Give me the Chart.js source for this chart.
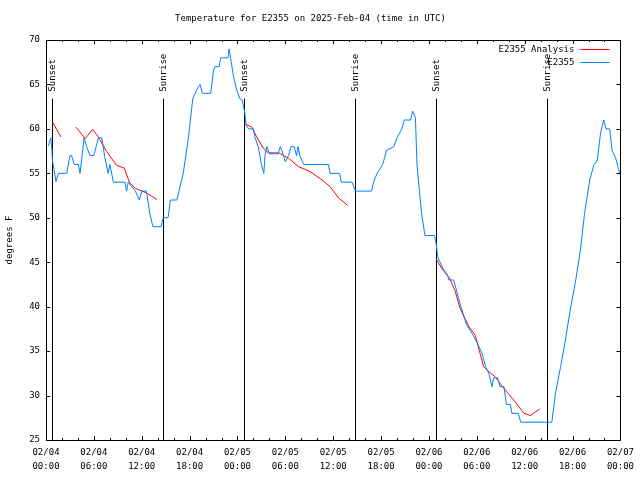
<!DOCTYPE html>
<html>
<head>
<meta charset="utf-8">
<script src="https://cdn.jsdelivr.net/npm/chart.js@4.4.1/dist/chart.umd.min.js"></script>
<style>
    html, body { margin: 0; padding: 0; background: #fff; }
</style>
</head>
<body>
<canvas id="tempChart" width="640" height="480"></canvas>
<script>
// hours since 02/04 00:00 UTC
const stationHours = [0.3, 0.6, 0.75, 0.8, 1.25, 1.55, 2.6, 3.0, 3.2, 3.55, 4.05, 4.27, 4.55, 4.77, 5.1, 5.5, 6.0, 6.56, 7.0, 7.35, 7.8, 8.0, 8.45, 9.9,
    10.1, 10.3, 11.2, 11.7, 12.0, 12.6, 13.0, 13.4, 14.4, 14.7, 15.3, 15.6, 16.4, 17.2, 17.85, 18.4, 18.9, 19.3, 19.6, 20.65, 21.0, 21.2, 21.7, 21.9,
    22.8, 22.95, 23.2, 23.5, 23.9, 24.3, 24.6, 24.9, 25.1, 25.4, 26.0, 26.2, 26.6, 27.0, 27.3, 27.45, 27.7, 28.0, 29.1, 29.35, 29.6, 30.0, 30.4, 30.7,
    31.1, 31.4, 31.6, 31.8, 32.3, 35.4, 35.6, 36.8, 37.0, 38.35, 38.8, 40.8, 41.05, 41.5, 42.2, 42.7, 43.6, 44.0, 44.6, 44.9, 45.7, 45.95, 46.3, 46.5,
    46.8, 47.1, 47.5, 48.7, 48.9, 49.1, 49.4, 49.8, 50.3, 50.5, 51.1, 51.4, 52.0, 52.35, 52.7, 53.4, 54.0, 54.65, 55.1, 55.5, 55.7, 55.9, 56.1, 56.6,
    56.9, 57.4, 57.7, 58.2, 58.4, 59.2, 59.5, 63.4, 63.85, 64.5, 65.1, 65.7, 66.4, 67.0, 67.5, 68.15, 68.65, 69.1, 69.5, 69.9, 70.2, 70.65, 70.95,
    71.4, 71.9, 72.0];
const stationTemps = [58.1, 59.0, 57.6, 56.5, 54.1, 55, 55, 57, 57, 56, 56, 55, 57.2, 59, 58, 57, 57, 59, 59, 56.9, 55, 56, 54, 54,
    53, 54, 53, 52, 53, 53, 50.5, 49, 49, 50, 50, 52, 52, 55, 59, 63.4, 64.4, 65, 64, 64, 66.6, 67, 67, 68,
    68, 69, 67.6, 65.9, 64.4, 63.4, 63.2, 61.9, 60.4, 60, 60, 59, 58, 56, 55, 57, 58, 57.2, 57.2, 58, 57.5, 56.3, 57, 58,
    58, 57, 58, 57, 56, 56, 55, 55, 54, 54, 53, 53, 54, 55, 56, 57.6, 58, 59, 60, 61, 61, 62, 61.3, 56,
    53, 50.3, 48, 48, 47.1, 45.6, 45, 44.2, 43.6, 43, 43, 42, 40, 39, 38, 37, 36, 34.75, 33.25, 32.5, 31.75, 31, 32, 32,
    31, 31, 29, 29, 28, 28, 27, 27, 30.25, 33.25, 36.25, 39.6, 43, 46.5, 50.5, 54.25, 55.9, 56.5, 59.5, 61, 60, 60, 57.6,
    56.7, 55, 55];

// analysis series, null = break in the line
const analysisHours = [0.8, 1.85, 2.8,
    3.75, 4.9, 5.85, 6.56, 7.6, 8.85, 9.8, 10.5, 11.2, 12.6, 13.9, 19.0,
    24.85, 25.8, 26.4, 27.25, 27.9, 29.15, 30.4, 31.65, 33.1, 34.6, 35.6, 36.7, 37.8, 43.0,
    48.9, 49.6, 50.6, 51.3, 51.9, 53.0, 53.8, 54.4, 54.85, 55.5, 56.3, 57.4, 58.8, 59.9, 60.7, 61.9];
const analysisTemps = [60.8, 59.1, null,
    60.2, 58.9, 59.95, 59.1, 57.45, 55.9, 55.6, 53.9, 53.3, 52.8, 52.05, null,
    60.6, 60.2, 59.1, 57.8, 57.3, 57.3, 56.7, 55.75, 55.2, 54.25, 53.5, 52.2, 51.4, null,
    45.4, 44.3, 43.2, 41.7, 39.8, 37.75, 36.8, 34.75, 33.25, 32.7, 32.1, 30.8, 29.3, 28, 27.75, 28.5];

const sunHours = [0.79, 14.71, 24.84, 38.67, 48.88, 62.76];
const sunLabels = ['Sunset', 'Sunrise', 'Sunset', 'Sunrise', 'Sunset', 'Sunrise'];
const sunLineTop = 63.4;

const xTickLabels = [
    ['02/04', '00:00'], ['02/04', '06:00'], ['02/04', '12:00'], ['02/04', '18:00'],
    ['02/05', '00:00'], ['02/05', '06:00'], ['02/05', '12:00'], ['02/05', '18:00'],
    ['02/06', '00:00'], ['02/06', '06:00'], ['02/06', '12:00'], ['02/06', '18:00'],
    ['02/07', '00:00']
];

const FONT = 'DejaVu Sans Mono';
const RED = 'rgb(255, 0, 0)';
const BLUE = 'rgb(0, 128, 255)';

function toPoints(xs, ys) {
    return xs.map((x, i) => ({ x: x, y: ys[i] }));
}

// gnuplot look: frame, inward ticks, sun markers, legend on the right
const gnuplotDecor = {
    id: 'gnuplotDecor',
    beforeDatasetsDraw(chart) {
        const ctx = chart.ctx;
        const xs = chart.scales.x;
        const ys = chart.scales.y;
        const area = chart.chartArea;
        ctx.save();
        ctx.strokeStyle = '#000';
        ctx.lineWidth = 1;
        ctx.fillStyle = '#000';
        ctx.font = '9px "' + FONT + '"';
        sunHours.forEach((h, i) => {
            const px = Math.round(xs.getPixelForValue(h)) + 0.5;
            const top = ys.getPixelForValue(sunLineTop);
            ctx.beginPath();
            ctx.moveTo(px, area.bottom);
            ctx.lineTo(px, top);
            ctx.stroke();
            ctx.save();
            ctx.translate(px, top - 7);
            ctx.rotate(-Math.PI / 2);
            ctx.textAlign = 'left';
            ctx.textBaseline = 'middle';
            ctx.fillText(sunLabels[i], 0, 0);
            ctx.restore();
        });
        ctx.restore();
    },
    afterDraw(chart) {
        const ctx = chart.ctx;
        const xs = chart.scales.x;
        const ys = chart.scales.y;
        const a = chart.chartArea;
        ctx.save();
        ctx.strokeStyle = '#000';
        ctx.lineWidth = 1;
        ctx.beginPath();
        ctx.rect(Math.round(a.left) + 0.5, Math.round(a.top) + 0.5,
            Math.round(a.right - a.left), Math.round(a.bottom - a.top));
        ctx.stroke();

        ctx.beginPath();
        xs.ticks.forEach(t => {
            const px = Math.round(xs.getPixelForValue(t.value)) + 0.5;
            const len = t.value % 6 === 0 ? 4 : 2;
            ctx.moveTo(px, a.bottom);
            ctx.lineTo(px, a.bottom - len);
            ctx.moveTo(px, a.top);
            ctx.lineTo(px, a.top + len);
        });
        ys.ticks.forEach(t => {
            const py = Math.round(ys.getPixelForValue(t.value)) + 0.5;
            ctx.moveTo(a.left, py);
            ctx.lineTo(a.left + 4, py);
            ctx.moveTo(a.right, py);
            ctx.lineTo(a.right - 4, py);
        });
        ctx.stroke();

        // legend
        ctx.font = '9px "' + FONT + '"';
        ctx.textAlign = 'right';
        ctx.textBaseline = 'middle';
        ctx.fillStyle = '#000';
        chart.data.datasets.forEach((ds, i) => {
            const y = 49.5 + i * 13;
            ctx.fillText(ds.label, a.right - 46, y);
            ctx.strokeStyle = ds.borderColor;
            ctx.beginPath();
            ctx.moveTo(a.right - 40, y);
            ctx.lineTo(a.right - 11, y);
            ctx.stroke();
        });
        ctx.restore();
    }
};

document.addEventListener('DOMContentLoaded', function() {
    const ctx = document.getElementById('tempChart').getContext('2d');
    new Chart(ctx, {
        type: 'line',
        data: {
            datasets: [{
                label: 'E2355 Analysis',
                data: toPoints(analysisHours, analysisTemps),
                borderColor: RED,
                borderWidth: 1,
                pointRadius: 0,
                spanGaps: false,
                tension: 0,
                order: 2
            }, {
                label: 'E2355',
                data: toPoints(stationHours, stationTemps),
                borderColor: BLUE,
                borderWidth: 1,
                pointRadius: 0,
                tension: 0,
                order: 1
            }]
        },
        options: {
            responsive: false,
            animation: false,
            devicePixelRatio: 1,
            layout: { padding: { left: 0, right: 19, top: 0, bottom: 0 } },
            plugins: {
                legend: { display: false },
                tooltip: { enabled: false },
                title: {
                    display: true,
                    text: 'Temperature for E2355 on 2025-Feb-04 (time in UTC)',
                    color: '#000',
                    font: { family: FONT, size: 9, weight: 'normal' },
                    padding: { top: 13.6, bottom: 15.6 }
                }
            },
            scales: {
                x: {
                    type: 'linear',
                    min: 0,
                    max: 72,
                    grid: { display: false, drawTicks: false },
                    border: { display: false },
                    afterFit: s => { s.height = 40; },
                    ticks: {
                        stepSize: 2,
                        autoSkip: false,
                        maxRotation: 0,
                        padding: 6,
                        color: '#000',
                        font: { family: FONT, size: 9, lineHeight: 14 / 9 },
                        callback: v => (v % 6 === 0 ? xTickLabels[v / 6] : '')
                    }
                },
                y: {
                    min: 25,
                    max: 70,
                    grid: { display: false, drawTicks: false },
                    border: { display: false },
                    afterFit: s => { s.width = 46; },
                    title: {
                        display: true,
                        text: 'degrees F',
                        color: '#000',
                        font: { family: FONT, size: 9 },
                        padding: { top: 4.6, bottom: 0 }
                    },
                    ticks: {
                        stepSize: 5,
                        padding: 6,
                        color: '#000',
                        font: { family: FONT, size: 9 }
                    }
                }
            }
        },
        plugins: [gnuplotDecor]
    });
});
</script>
</body>
</html>
